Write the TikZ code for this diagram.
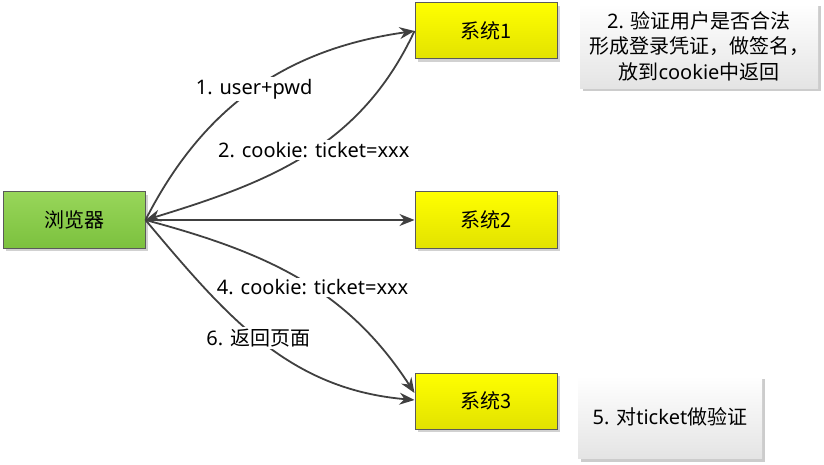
\documentclass[tikz,border=0pt]{standalone}
\usepackage{fontspec}
\setmainfont{Noto Sans}
\newfontfamily\cjk{Noto Sans CJK SC}
\usetikzlibrary{arrows.meta,shadows}

\definecolor{arrowgray}{HTML}{404040}
\definecolor{boxborder}{HTML}{5A5A5A}
\definecolor{browsertop}{HTML}{98D65A}
\definecolor{browserbottom}{HTML}{7CC13E}
\definecolor{systop}{HTML}{FFFF00}
\definecolor{sysbottom}{HTML}{E2E200}
\definecolor{notebottom}{HTML}{E4E4E4}

\begin{document}
\begin{tikzpicture}[x=1pt,y=1pt,
    font=\fontsize{20}{25.5}\selectfont,
    box/.style={draw=boxborder, line width=1pt,
                minimum width=142pt, minimum height=56pt,
                drop shadow={shadow xshift=3pt, shadow yshift=-3pt,
                             fill=black, opacity=.18}},
    browserbox/.style={box, top color=browsertop, bottom color=browserbottom},
    sysbox/.style={box, top color=systop, bottom color=sysbottom},
    notebox/.style={align=center, top color=white, bottom color=notebottom,
                    drop shadow={shadow xshift=3pt, shadow yshift=-3pt,
                                 fill=black, opacity=.2}},
    flow/.style={draw=arrowgray, line width=1.8pt,
                 -{Stealth[length=15pt,width=12pt]}},
    lbl/.style={fill=white, inner sep=2pt}
  ]
    \useasboundingbox (0,0) rectangle (824,464);

    % boxes
    \node[browserbox] (browser) at (74,244) {\cjk 浏览器};
    \node[sysbox] (sys1) at (486,433) {\cjk 系统1};
    \node[sysbox] (sys2) at (486,244) {\cjk 系统2};
    \node[sysbox] (sys3) at (486,63) {\cjk 系统3};

    % notes
    \node[notebox, minimum width=238pt, minimum height=85pt] (note1) at (699,418)
        {2. {\cjk 验证用户是否合法}\\
         {\cjk 形成登录凭证，做签名，}\\
         {\cjk 放到}cookie{\cjk 中返回}};
    \node[notebox, minimum width=184pt, minimum height=83pt] (note5) at (670,47)
        {5. {\cjk 对}ticket{\cjk 做验证}};

    % login
    \draw[flow] (browser.east) to[out=63,in=188]
        node[lbl, pos=.5] (login) {1. user+pwd} (sys1.west);
    \draw[flow] (sys1.west) to[out=245,in=17]
        node[lbl, pos=.47] (cookie1) {2. cookie: ticket=xxx} (browser.east);
    \draw[flow] (browser.east) -- (sys2.west);

    % second system
    \draw[flow] (browser.east) to[out=-15,in=123]
        node[lbl, pos=.55] (cookie3) {4. cookie: ticket=xxx} ([yshift=8pt]sys3.west);
    \draw[flow] (browser.east) to[out=-50,in=175]
        node[lbl, pos=.48] (page) {6. {\cjk 返回页面}} ([yshift=1pt]sys3.west);
\end{tikzpicture}
\end{document}
